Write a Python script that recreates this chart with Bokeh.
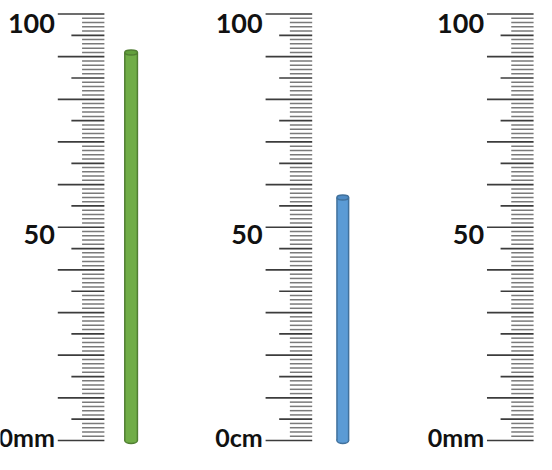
import numpy as np
from bokeh.plotting import figure
from bokeh.models import Range1d, ColumnDataSource
from bokeh.core.properties import value
from bokeh.embed import file_html
from bokeh.resources import INLINE

# ---- data ----
scale_min = 0
scale_max = 100
labeled_ticks = [0, 50, 100]
units = ["mm", "cm", "mm"]
readings = [91, 57, None]
bar_fill = ["#70AD47", "#5B9BD5", None]
bar_edge = ["#507E32", "#41719C", None]
cap_fill = ["#62A03C", "#4F8CC6", None]

# ---- layout (x in reference pixels) ----
tick_right = [107, 321, 549]
bar_center = [134.5, 352.5, None]
bar_width = [13, 12, None]
major_len, mid_len, minor_len = 48, 34, 23
label_gap = 51
label_baseline_offset = {0: -4, 50: 7, 100: 9}
label_size = {0: "25px", 50: "27px", 100: "27px"}

p = figure(width=536, height=454, x_range=Range1d(0, 552),
           y_range=Range1d(-3.28, 103.17), output_backend="svg",
           toolbar_location=None, x_axis_type=None, y_axis_type=None,
           min_border=0)
p.grid.visible = False
p.outline_line_color = None
p.background_fill_color = "white"
p.border_fill_color = "white"

tick_vals = np.arange(scale_min, scale_max + 1)

major = dict(x0=[], x1=[], y=[])
minor = dict(x0=[], x1=[], y=[])
for R in tick_right:
    for v in tick_vals:
        if v % 10 == 0:
            d, L = major, major_len
        elif v % 5 == 0:
            d, L = major, mid_len
        else:
            d, L = minor, minor_len
        d["x0"].append(R - L)
        d["x1"].append(R)
        d["y"].append(float(v))

p.segment(x0="x0", y0="y", x1="x1", y1="y", source=ColumnDataSource(minor),
          line_color="#7a7a7a", line_width=1.5)
p.segment(x0="x0", y0="y", x1="x1", y1="y", source=ColumnDataSource(major),
          line_color="#3c3c3c", line_width=1.7)

# labels
for R, u in zip(tick_right, units):
    for t in labeled_ticks:
        txt = f"{t}{u}" if t == scale_min else f"{t}"
        p.text(x=[R - label_gap], y=[t], text=[txt], text_align="right",
               text_baseline="alphabetic", y_offset=label_baseline_offset[t],
               text_font=value("Lato"), text_font_style="bold",
               text_font_size=label_size[t], text_color="#111111")

# cylinders
for c, w, val, f, e, cf in zip(bar_center, bar_width, readings, bar_fill, bar_edge, cap_fill):
    if val is None:
        continue
    p.ellipse(x=[c], y=[scale_min], width=w, height=6, width_units="data",
              height_units="screen", fill_color=f, line_color=e, line_width=1.5)
    p.vbar(x=[c], width=w, bottom=[scale_min], top=[val], fill_color=f, line_color=None)
    p.segment(x0=[c - w / 2, c + w / 2], y0=[scale_min, scale_min],
              x1=[c - w / 2, c + w / 2], y1=[val, val], line_color=e, line_width=1.5)
    p.ellipse(x=[c], y=[val], width=w, height=5, width_units="data",
              height_units="screen", fill_color=cf, line_color=e, line_width=1.5)

open("out.html", "w").write(file_html(p, INLINE))
